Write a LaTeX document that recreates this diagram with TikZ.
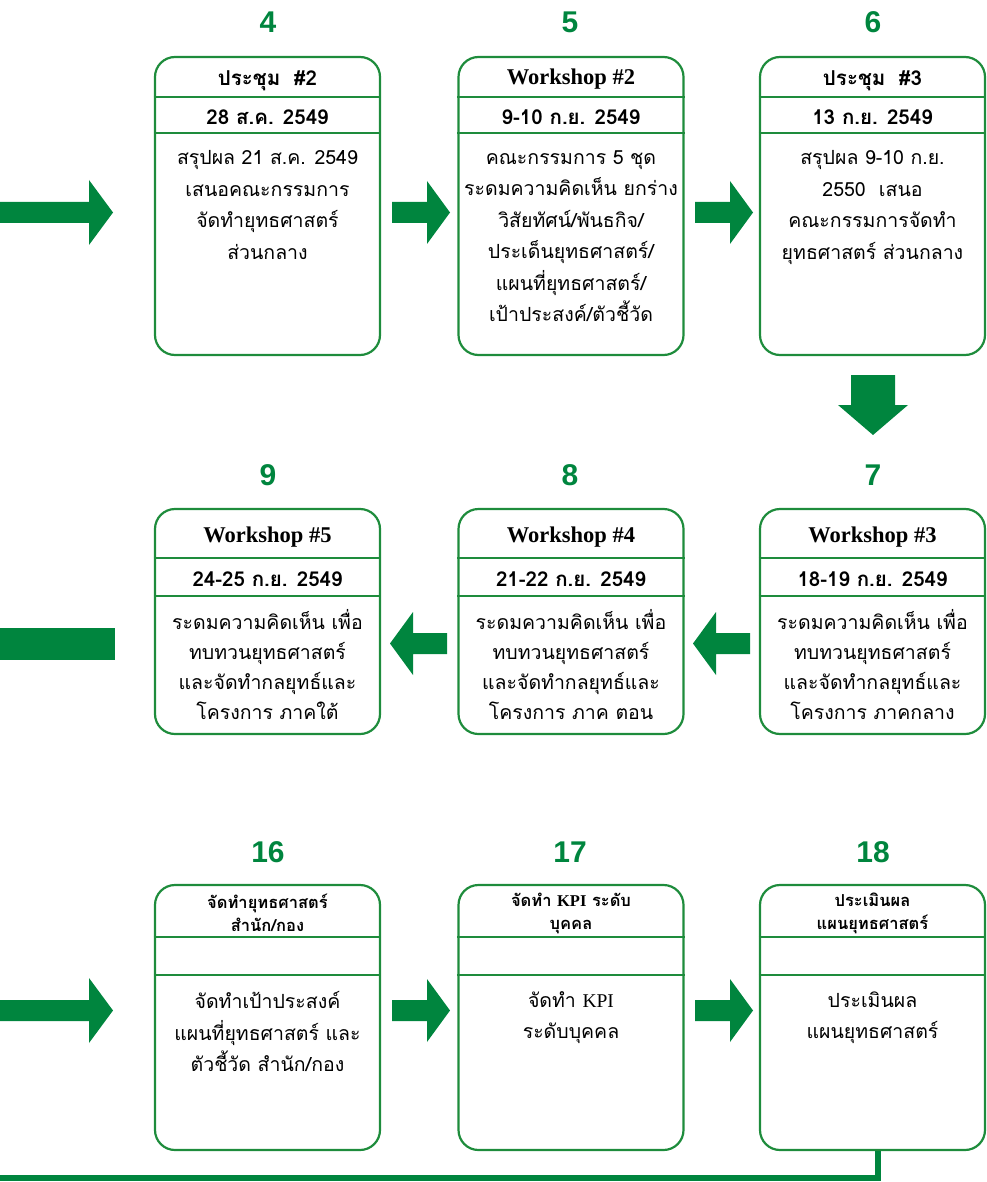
\documentclass[tikz,border=0pt]{standalone}
\usepackage{fontspec}
\setmainfont{Liberation Serif}
\newfontfamily\thai[Script=Thai]{Loma}
\newfontfamily\numfont{Liberation Sans}
\usetikzlibrary{positioning}
\definecolor{ggreen}{RGB}{0,133,62}
\definecolor{bgreen}{RGB}{30,140,60}
\tikzset{
  boxframe/.style={draw=bgreen, line width=2.2pt, rounded corners=20pt, minimum width=225pt, inner sep=0pt},
  sepline/.style={draw=bgreen, line width=2.2pt},
  stepnum/.style={text=ggreen, font=\numfont\bfseries\fontsize{30}{30}\selectfont},
  headtxt/.style={font=\thai\bfseries\fontsize{20.5}{24}\selectfont, align=center},
  headlat/.style={font=\bfseries\fontsize{22.5}{26}\selectfont, align=center},
  headsmall/.style={font=\thai\bfseries\fontsize{16.5}{23}\selectfont, align=center},
  bodytxt/.style={font=\thai\fontsize{19.5}{31.5}\selectfont, align=center, anchor=north},
  bodytight/.style={bodytxt, font=\thai\fontsize{19.5}{30}\selectfont},
  arrowfill/.style={fill=ggreen},
}
\begin{document}
\begin{tikzpicture}[x=1pt,y=-1pt]
\useasboundingbox (0,0) rectangle (986,1182);

% ---------- Row 1 ----------
\foreach \nm/\cx in {b4/267.5, b5/571, b6/872.5}{
  \node[boxframe, minimum height=298pt] (\nm) at (\cx,206) {};
  \draw[sepline] (\nm.west |- 0,97) -- (\nm.east |- 0,97);
  \draw[sepline] (\nm.west |- 0,133) -- (\nm.east |- 0,133);
}
\node[stepnum] (n4) at (268,22) {4};
\node[stepnum] (n5) at (570,22) {5};
\node[stepnum] (n6) at (873,22) {6};

\node[headtxt] (h4) at (267.5,81) {ประชุม\ \ \#2};
\node[headtxt] (d4) at (267.5,117) {28 ส.ค. 2549};
\node[bodytxt] (t4) at (267.5,147) {สรุปผล 21 ส.ค. 2549\\เสนอคณะกรรมการ\\จัดทำยุทธศาสตร์\\ส่วนกลาง};

\node[headlat] (h5) at (571,79) {Workshop \#2};
\node[headtxt] (d5) at (571,117) {9-10 ก.ย. 2549};
\node[bodytxt] (t5) at (571,147) {คณะกรรมการ 5 ชุด\\ระดมความคิดเห็น ยกร่าง\\วิสัยทัศน์/พันธกิจ/\\ประเด็นยุทธศาสตร์/\\แผนที่ยุทธศาสตร์/\\เป้าประสงค์/ตัวชี้วัด};

\node[headtxt] (h6) at (872.5,81) {ประชุม\ \ \#3};
\node[headtxt] (d6) at (872.5,117) {13 ก.ย. 2549};
\node[bodytxt] (t6) at (872.5,147) {สรุปผล 9-10 ก.ย.\\2550\ \ เสนอ\\คณะกรรมการจัดทำ\\ยุทธศาสตร์ ส่วนกลาง};

% row 1 arrows
\fill[arrowfill] (0,202) -- (89,202) -- (89,180) -- (113,212.5) -- (89,245) -- (89,223) -- (0,223) -- cycle;
\fill[arrowfill] (392,202) -- (427,202) -- (427,181) -- (450,212.5) -- (427,244) -- (427,223) -- (392,223) -- cycle;
\fill[arrowfill] (695,202) -- (730,202) -- (730,181) -- (753,212.5) -- (730,244) -- (730,223) -- (695,223) -- cycle;

% down arrow
\fill[arrowfill] (851,375) -- (895,375) -- (895,405) -- (908,405) -- (873,435) -- (838,405) -- (851,405) -- cycle;

% ---------- Row 2 ----------
\foreach \nm/\cx in {b9/267.5, b8/571, b7/872.5}{
  \node[boxframe, minimum height=225pt] (\nm) at (\cx,621.5) {};
  \draw[sepline] (\nm.west |- 0,558) -- (\nm.east |- 0,558);
  \draw[sepline] (\nm.west |- 0,596) -- (\nm.east |- 0,596);
}
\node[stepnum] (n9) at (268,475) {9};
\node[stepnum] (n8) at (570,475) {8};
\node[stepnum] (n7) at (873,475) {7};

\node[headlat] (h9) at (267.5,537) {Workshop \#5};
\node[headtxt] (d9) at (267.5,579) {24-25 ก.ย. 2549};
\node[bodytight] (t9) at (267.5,606) {ระดมความคิดเห็น เพื่อ\\ทบทวนยุทธศาสตร์\\และจัดทำกลยุทธ์และ\\โครงการ ภาคใต้};

\node[headlat] (h8) at (571,537) {Workshop \#4};
\node[headtxt] (d8) at (571,579) {21-22 ก.ย. 2549};
\node[bodytight] (t8) at (571,606) {ระดมความคิดเห็น เพื่อ\\ทบทวนยุทธศาสตร์\\และจัดทำกลยุทธ์และ\\โครงการ ภาค ตอน};

\node[headlat] (h7) at (872.5,537) {Workshop \#3};
\node[headtxt] (d7) at (872.5,579) {18-19 ก.ย. 2549};
\node[bodytight] (t7) at (872.5,606) {ระดมความคิดเห็น เพื่อ\\ทบทวนยุทธศาสตร์\\และจัดทำกลยุทธ์และ\\โครงการ ภาคกลาง};

% row 2 arrows (leftward)
\fill[arrowfill] (0,628) rectangle (115,660);
\fill[arrowfill] (447,633) -- (413,633) -- (413,612) -- (390,643.5) -- (413,675) -- (413,654) -- (447,654) -- cycle;
\fill[arrowfill] (750,633) -- (716,633) -- (716,612) -- (693,643.5) -- (716,675) -- (716,654) -- (750,654) -- cycle;

% ---------- Row 3 ----------
\foreach \nm/\cx in {b16/267.5, b17/571, b18/872.5}{
  \node[boxframe, minimum height=265pt] (\nm) at (\cx,1017.5) {};
  \draw[sepline] (\nm.west |- 0,937) -- (\nm.east |- 0,937);
  \draw[sepline] (\nm.west |- 0,975) -- (\nm.east |- 0,975);
}
\node[stepnum] (n16) at (268,852) {16};
\node[stepnum] (n17) at (570,852) {17};
\node[stepnum] (n18) at (873,852) {18};

\node[headsmall] (h16) at (267.5,913) {จัดทำยุทธศาสตร์\\สำนัก/กอง};
\node[bodytxt] (t16) at (267.5,988) {จัดทำเป้าประสงค์\\แผนที่ยุทธศาสตร์ และ\\ตัวชี้วัด สำนัก/กอง};

\node[headsmall] (h17) at (571,913) {จัดทำ {\rmfamily KPI} ระดับ\\บุคคล};
\node[bodytxt] (t17) at (571,988) {จัดทำ {\rmfamily\mdseries KPI}\\ระดับบุคคล};

\node[headsmall] (h18) at (872.5,913) {ประเมินผล\\แผนยุทธศาสตร์};
\node[bodytxt] (t18) at (872.5,988) {ประเมินผล\\แผนยุทธศาสตร์};

% row 3 arrows
\fill[arrowfill] (0,1000) -- (89,1000) -- (89,978) -- (113,1010.5) -- (89,1043) -- (89,1021) -- (0,1021) -- cycle;
\fill[arrowfill] (392,1000) -- (427,1000) -- (427,979) -- (450,1010.5) -- (427,1042) -- (427,1021) -- (392,1021) -- cycle;
\fill[arrowfill] (695,1000) -- (730,1000) -- (730,979) -- (753,1010.5) -- (730,1042) -- (730,1021) -- (695,1021) -- cycle;

% bottom return connector
\coordinate (endL) at (0,1178);
\draw[draw=ggreen, line width=6pt] (b18.south -| 878,0) -- (878,1178) -- (endL);
\end{tikzpicture}
\end{document}
